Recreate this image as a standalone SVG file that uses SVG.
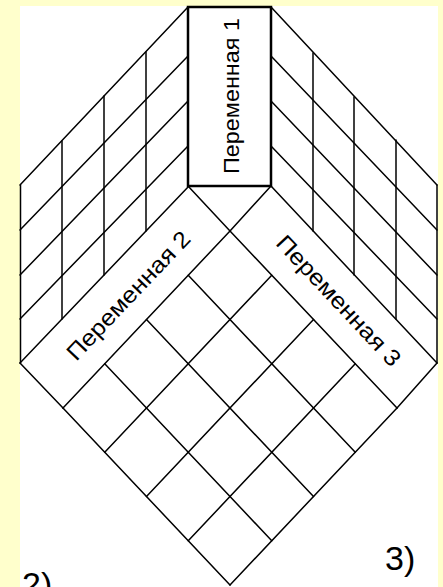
<svg xmlns="http://www.w3.org/2000/svg" width="443" height="587" viewBox="0 0 443 587">
<style>
.ln{stroke:#000;stroke-width:1.5;fill:none;stroke-linecap:round}
.bx{stroke:#000;stroke-width:2.5;fill:#fff}
.lbl{font-family:"Liberation Sans",Arial,sans-serif;fill:#000}
</style>
<rect x="0" y="0" width="443" height="587" fill="#FFFFCC"/>
<rect x="20" y="6" width="418" height="581" fill="#fff"/>
<g id="connectors">
<g id="left-face" class="ln">
<line x1="188" y1="7" x2="20" y2="185"/>
<line x1="188" y1="56" x2="20" y2="230"/>
<line x1="188" y1="101" x2="20" y2="275"/>
<line x1="188" y1="146" x2="20" y2="319"/>
<line x1="189" y1="186" x2="20" y2="363"/>
<line x1="20.5" y1="185" x2="20.5" y2="363"/>
<line x1="62" y1="141" x2="62" y2="319"/>
<line x1="104" y1="96" x2="104" y2="275"/>
<line x1="146" y1="52" x2="146" y2="231"/>
</g>
<g id="right-face" class="ln">
<line x1="271" y1="7" x2="437" y2="185"/>
<line x1="271" y1="56" x2="437" y2="230"/>
<line x1="271" y1="101" x2="437" y2="275"/>
<line x1="271" y1="146" x2="437" y2="319"/>
<line x1="271" y1="186" x2="437" y2="363"/>
<line x1="437" y1="185" x2="437" y2="363"/>
<line x1="313" y1="53" x2="313" y2="231"/>
<line x1="354" y1="97" x2="354" y2="275"/>
<line x1="396" y1="140" x2="396" y2="319"/>
</g>
<g id="bottom-face" class="ln">
<line x1="188" y1="186" x2="230" y2="231"/>
<line x1="271" y1="186" x2="230" y2="231"/>
<line x1="20" y1="363" x2="63" y2="408"/>
<line x1="437" y1="363" x2="397" y2="408"/>
<line x1="230" y1="231" x2="397" y2="408"/>
<line x1="188.25" y1="275.25" x2="355.25" y2="452.25"/>
<line x1="146.5" y1="319.5" x2="313.5" y2="496.5"/>
<line x1="104.75" y1="363.75" x2="271.75" y2="540.75"/>
<line x1="63" y1="408" x2="230" y2="585"/>
<line x1="230" y1="231" x2="63" y2="408"/>
<line x1="271.75" y1="275.25" x2="104.75" y2="452.25"/>
<line x1="313.5" y1="319.5" x2="146.5" y2="496.5"/>
<line x1="355.25" y1="363.75" x2="188.25" y2="540.75"/>
<line x1="397" y1="408" x2="230" y2="585"/>
</g>
</g>
<g id="var1">
<rect class="bx" x="188" y="7" width="83" height="179"/>
<text class="lbl" font-size="22" text-anchor="middle" textLength="156" lengthAdjust="spacingAndGlyphs" transform="translate(239,96) rotate(-90)">Переменная 1</text>
</g>
<g id="var2">
<text class="lbl" font-size="23" text-anchor="middle" textLength="168" lengthAdjust="spacingAndGlyphs" transform="translate(134,301) rotate(-46.5)">Переменная 2</text>
</g>
<g id="var3">
<text class="lbl" font-size="23" text-anchor="middle" textLength="170" lengthAdjust="spacingAndGlyphs" transform="translate(333,306) rotate(46.8)">Переменная 3</text>
</g>
<g id="label2"><text class="lbl" font-size="34" x="22" y="596">2)</text></g>
<g id="label3"><text class="lbl" font-size="34" x="385" y="570">3)</text></g>
</svg>
